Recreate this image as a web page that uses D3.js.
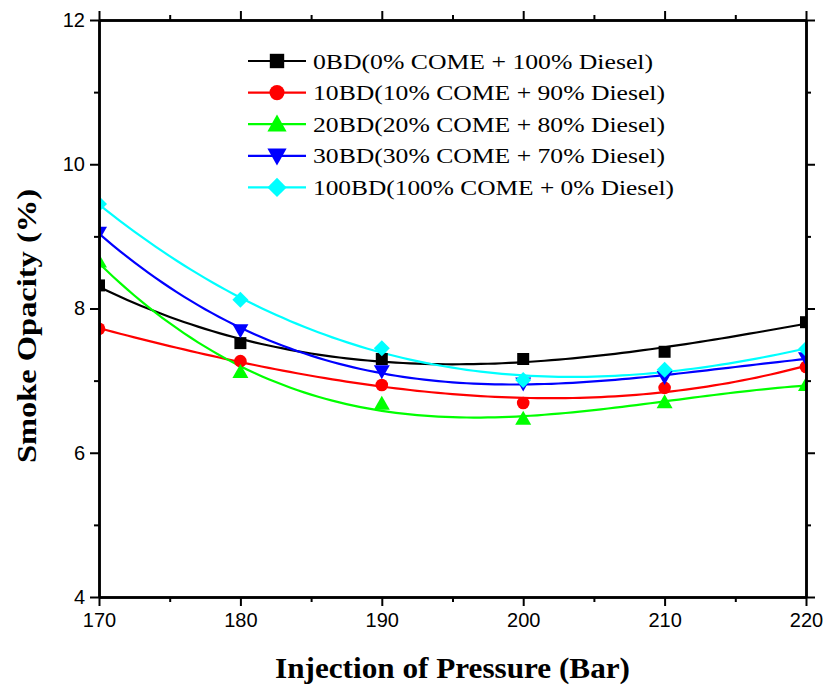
<!DOCTYPE html>
<html>
<head>
<meta charset="utf-8">
<script src="https://cdn.jsdelivr.net/npm/d3@7/dist/d3.min.js"></script>
<style>
  body { margin: 0; background: #fff; }
  svg { display: block; }
</style>
</head>
<body>
<div id="chart"></div>
<script>
const pressures = [170, 180, 190, 200, 210, 220]
const opacity0BD = [8.32, 7.52, 7.30, 7.30, 7.40, 7.81]
const opacity10BD = [7.72, 7.27, 6.94, 6.69, 6.90, 7.19]
const opacity20BD = [8.65, 7.12, 6.68, 6.47, 6.70, 6.94]
const opacity30BD = [9.05, 7.70, 7.13, 6.96, 7.05, 7.31]
const opacity100BD = [9.45, 8.12, 7.45, 7.01, 7.15, 7.44]
const seriesNames = [
  '0BD(0% COME + 100% Diesel)',
  '10BD(10% COME + 90% Diesel)',
  '20BD(20% COME + 80% Diesel)',
  '30BD(30% COME + 70% Diesel)',
  '100BD(100% COME + 0% Diesel)'
]
const seriesColors = ['#000000', '#ff0000', '#00ff00', '#0000ff', '#00ffff']
const seriesSymbols = ['square', 'circle', 'triangle', 'triangleDown', 'diamond']
const xTicks = [170, 180, 190, 200, 210, 220]
const yTicks = [4, 6, 8, 10, 12]

const width = 826
const height = 688
const margin = { top: 20, left: 99, right: 20, bottom: 91 }
const plotW = width - margin.left - margin.right
const plotH = height - margin.top - margin.bottom
const serif = 'Liberation Serif, Times New Roman, serif'

const series = [opacity0BD, opacity10BD, opacity20BD, opacity30BD, opacity100BD].map((v, i) => ({
  name: seriesNames[i], color: seriesColors[i], symbol: seriesSymbols[i],
  points: pressures.map((p, j) => ({ x: p, y: v[j] }))
}))

// least squares polynomial fit, like the origin fit curves
let polyfit = function (pts, order) {
  let n = order + 1
  let A = Array(n).fill().map(() => Array(n + 1).fill(0))
  pts.forEach(p => {
    let t = (p.x - 195) / 25
    for (let r = 0; r < n; r++) {
      for (let c = 0; c < n; c++) A[r][c] += Math.pow(t, r + c)
      A[r][n] += p.y * Math.pow(t, r)
    }
  })
  for (let i = 0; i < n; i++) {
    let piv = i
    for (let k = i + 1; k < n; k++) if (Math.abs(A[k][i]) > Math.abs(A[piv][i])) piv = k
    let tmp = A[i]; A[i] = A[piv]; A[piv] = tmp
    for (let k = 0; k < n; k++) {
      if (k === i) continue
      let f = A[k][i] / A[i][i]
      for (let c = i; c <= n; c++) A[k][c] -= f * A[i][c]
    }
  }
  let coef = A.map((row, i) => row[n] / row[i])
  return x => {
    let t = (x - 195) / 25
    return coef.reduce((s, c, i) => s + c * Math.pow(t, i), 0)
  }
}

const svg = d3.select('#chart').append('svg')
  .attr('width', width).attr('height', height)
const g = svg.append('g').attr('transform', `translate(${margin.left},${margin.top})`)

const x = d3.scaleLinear().domain([170, 220]).range([0, plotW])
const y = d3.scaleLinear().domain([4, 12]).range([plotH, 0])

svg.append('defs').append('clipPath').attr('id', 'plotClip')
  .append('rect').attr('width', plotW).attr('height', plotH)

const plot = g.append('g').attr('clip-path', 'url(#plotClip)')

const line = d3.line().x(d => x(d[0])).y(d => y(d[1]))
// origin style markers
let symbolPath = function (name, k = 1) {
  let p = d3.path()
  if (name === 'square') { let h = 6 * k; p.rect(-h, -h, 2 * h, 2 * h) }
  if (name === 'circle') { p.arc(0, 0, 6.3 * k, 0, 2 * Math.PI) }
  if (name === 'triangle') { p.moveTo(0, -8 * k); p.lineTo(8 * k, 6 * k); p.lineTo(-8 * k, 6 * k); p.closePath() }
  if (name === 'triangleDown') { p.moveTo(0, 8 * k); p.lineTo(8 * k, -6 * k); p.lineTo(-8 * k, -6 * k); p.closePath() }
  if (name === 'diamond') { let h = 8 * k; p.moveTo(0, -h); p.lineTo(h, 0); p.lineTo(0, h); p.lineTo(-h, 0); p.closePath() }
  return p.toString()
}

series.forEach(s => {
  let f = polyfit(s.points, 3)
  let curve = d3.range(170, 220.01, 0.5).map(v => [v, f(v)])
  plot.append('path').datum(curve)
    .attr('d', line).attr('fill', 'none')
    .attr('stroke', s.color).attr('stroke-width', 2.2)
})
series.forEach(s => {
  plot.selectAll(null).data(s.points).enter().append('path')
    .attr('d', symbolPath(s.symbol))
    .attr('transform', d => `translate(${x(d.x)},${y(d.y)})`)
    .attr('fill', s.color)
})

// axes (mirrored, ticks outwards)
const axisStyle = sel => {
  sel.selectAll('.domain').attr('stroke-width', 2.5)
  sel.selectAll('.tick line').attr('stroke-width', 2)
  sel.selectAll('text').attr('font-family', 'Liberation Sans, Arial, sans-serif').attr('font-size', 20).attr('fill', '#000')
}
const minorX = d3.range(175, 220, 10)
const minorY = d3.range(5, 12, 2)

g.append('g').attr('transform', `translate(0,${plotH})`)
  .call(d3.axisBottom(x).tickValues(xTicks).tickSize(9).tickSizeOuter(0).tickPadding(7).tickFormat(d3.format('d')))
  .call(axisStyle)
g.append('g').attr('transform', `translate(0,${plotH})`)
  .call(d3.axisBottom(x).tickValues(minorX).tickSize(5).tickSizeOuter(0).tickFormat(''))
  .call(axisStyle)
g.append('g')
  .call(d3.axisLeft(y).tickValues(yTicks).tickSize(9).tickSizeOuter(0).tickPadding(5))
  .call(axisStyle)
g.append('g')
  .call(d3.axisLeft(y).tickValues(minorY).tickSize(5).tickSizeOuter(0).tickFormat(''))
  .call(axisStyle)
g.append('g')
  .call(d3.axisTop(x).tickValues(xTicks).tickSize(9).tickSizeOuter(0).tickFormat(''))
  .call(axisStyle)
g.append('g')
  .call(d3.axisTop(x).tickValues(minorX).tickSize(5).tickSizeOuter(0).tickFormat(''))
  .call(axisStyle)
g.append('g').attr('transform', `translate(${plotW},0)`)
  .call(d3.axisRight(y).tickValues(yTicks).tickSize(9).tickSizeOuter(0).tickFormat(''))
  .call(axisStyle)
g.append('g').attr('transform', `translate(${plotW},0)`)
  .call(d3.axisRight(y).tickValues(minorY).tickSize(5).tickSizeOuter(0).tickFormat(''))
  .call(axisStyle)

// axis titles
svg.append('text')
  .attr('x', margin.left + plotW / 2).attr('y', 678)
  .attr('text-anchor', 'middle')
  .attr('font-family', serif)
  .attr('font-weight', 'bold').attr('font-size', 29)
  .attr('textLength', 355).attr('lengthAdjust', 'spacingAndGlyphs')
  .text('Injection of Pressure (Bar)')
svg.append('text')
  .attr('transform', `translate(36,326) rotate(-90)`)
  .attr('text-anchor', 'middle')
  .attr('font-family', serif)
  .attr('font-weight', 'bold').attr('font-size', 28)
  .attr('textLength', 274).attr('lengthAdjust', 'spacingAndGlyphs')
  .text('Smoke Opacity (%)')

// legend
const legendWidths = [340, 352, 352, 352, 361]
const legend = svg.append('g').attr('transform', 'translate(248,61)')
series.forEach((s, i) => {
  let row = legend.append('g').attr('transform', `translate(0,${i * 31.6})`)
  row.append('line').attr('x1', 0).attr('x2', 58).attr('y1', 0).attr('y2', 0)
    .attr('stroke', s.color).attr('stroke-width', 2.2)
  row.append('path').attr('d', symbolPath(s.symbol, 1.2))
    .attr('transform', 'translate(29,0)')
    .attr('fill', s.color)
  row.append('text').attr('x', 65).attr('y', 7.5)
    .attr('font-family', serif)
    .attr('font-size', 21)
    .attr('textLength', legendWidths[i]).attr('lengthAdjust', 'spacingAndGlyphs')
    .text(s.name)
})
</script>
</body>
</html>
